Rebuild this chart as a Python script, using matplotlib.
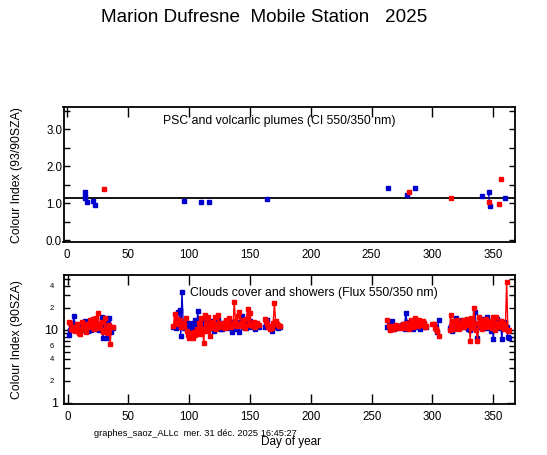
import numpy as np
import matplotlib
matplotlib.use("Agg")
import matplotlib.pyplot as plt
from matplotlib.ticker import FixedLocator, FixedFormatter

plt.rcParams['font.family'] = ['Liberation Sans', 'DejaVu Sans']

# ---------------- data ----------------
title = "Marion Dufresne  Mobile Station   2025"

# top panel: colour index (93/90 SZA)
ci_blue_days = [15, 15, 15, 16.7, 21.6, 23.2, 96.2, 110, 116.7, 164.2, 263.4, 279, 285.5,
                340.4, 346.2, 347, 359.3]
ci_blue_vals = [1.29, 1.19, 1.13, 1.02, 1.05, 0.94, 1.07, 1.04, 1.02, 1.10, 1.42, 1.23, 1.42,
                1.18, 1.29, 0.91, 1.15]
ci_red_days = [30.6, 280.6, 315, 346.2, 354.3, 356]
ci_red_vals = [1.37, 1.31, 1.13, 1.02, 0.99, 1.64]
ci_reference = 1.13

# bottom panel: flux ratio 550/350 at 90 SZA; segments given by start day
seg_starts_blue = [1, 87, 162, 263, 303, 314]
seg_starts_red = [1, 87, 162, 263, 300, 314]

flux_blue = [
    [8.5, 9.8, 11.5, 10.4, 15.5, 12.0, 10.8, 11.6, 10.2, 9.6, 11.8, 10.5, 9.9, 13.2, 12.6, 10.8,
     9.5, 11.2, 10.0, 12.8, 14.2, 11.5, 13.5, 10.4, 12.2, 9.8, 10.6, 14.8, 7.8, 9.6, 11.4, 7.8,
     12.5, 14.3, 10.2, 9.4, 10.5],
    [11.0, 11.5, 10.6, 12.0, 17.5, 18.8, 8.3, 33.0, 12.5, 10.5,
     11.2, 10.4, 12.6, 9.8, 11.8, 10.2, 12.4, 11.0, 13.5, 9.6,
     18.0, 10.8, 12.2, 9.4, 11.6, 14.0, 10.2, 12.8, 9.9, 11.4,
     10.6, 13.2, 11.8, 9.5, 12.4, 10.8, 11.2, 13.6, 10.4, 11.8,
     10.2, 12.6, 11.4, 10.8, 12.0, 13.4, 10.6, 11.2, 9.2, 12.8,
     11.0, 10.4, 13.0, 11.6, 9.2, 12.2, 15.6, 10.8, 12.4, 11.0,
     10.6, 12.0, 11.4, 13.2, 10.8, 11.6, 12.2, 10.4, 11.8, 11.2, 10.9],
    [11.0, 12.2, 13.6, 11.4, 10.6, 10.2, 9.6, 10.8, 11.8, 12.4, 11.2, 10.6, 11.4, 11.0],
    [11.0, 12.4, 10.2, 11.6, 13.2, 10.4, 11.0, 10.8, 11.4, 10.6, 11.2, 10.8, 11.6, 12.0, 10.4,
     17.0, 13.0, 11.8, 10.6, 12.4, 11.2, 10.4, 12.6, 11.8, 10.8, 13.4, 11.6, 10.2, 12.2, 11.0,
     12.6, 11.4, 10.8],
    [11.0, 9.4, 13.7],
    [10.6, 11.2, 9.5, 12.4, 11.0, 14.4, 13.2, 10.6, 12.8, 11.4,
     13.6, 10.8, 12.2, 13.0, 11.6, 10.2, 12.4, 9.8, 13.8, 11.0,
     12.6, 17.8, 10.4, 7.6, 12.0, 13.4, 10.8, 11.6, 14.2, 12.0,
     10.6, 14.9, 12.8, 11.4, 9.6, 13.2, 7.4, 12.6, 11.0, 14.0,
     12.2, 10.6, 13.4, 7.4, 11.8, 13.0, 12.4, 10.8, 8.0, 7.6],
]
flux_red = [
    [13.0, 12.4, 10.3, 9.9, 11.0, 9.6, 10.8, 12.0, 9.1, 8.7, 10.4, 12.8, 11.2, 10.5, 9.4, 12.0,
     10.8, 13.6, 12.6, 11.0, 13.9, 10.3, 14.5, 12.2, 17.2, 10.5, 11.4, 13.0, 9.3, 9.8, 14.6,
     10.2, 9.0, 11.5, 6.4, 10.8, 11.0],
    [11.2, 16.5, 13.0, 14.2, 12.0, 13.6, 11.0, 12.6, 10.8, 11.8,
     14.5, 9.6, 8.4, 7.8, 9.0, 8.2, 7.6, 9.4, 8.6, 10.2,
     9.0, 12.6, 8.8, 14.6, 10.4, 6.5, 15.8, 9.6, 15.2, 11.0,
     8.2, 12.8, 10.6, 11.4, 14.8, 10.2, 12.0, 16.2, 11.6, 10.8,
     12.4, 11.2, 10.6, 13.8, 11.0, 12.6, 14.4, 10.8, 12.2, 11.6,
     24.0, 13.2, 11.4, 15.6, 17.4, 12.0, 11.2, 13.6, 11.8, 10.6,
     14.2, 19.5, 11.6, 17.0, 12.2, 11.4, 12.8, 11.0, 11.8, 12.4, 11.6],
    [14.0, 13.2, 12.0, 11.0, 10.4, 11.2, 10.6, 12.6, 23.0, 13.4, 12.2, 11.8, 11.4, 11.2],
    [13.8, 11.2, 10.0, 10.8, 11.4, 10.4, 11.0, 11.6, 10.8, 11.2, 10.6, 11.4, 11.0, 12.0, 10.6,
     11.2, 12.6, 11.0, 10.4, 13.6, 12.2, 10.8, 11.6, 14.4, 12.0, 11.2, 13.8, 12.4, 11.6, 13.2,
     12.6, 11.0, 11.4],
    [12.1, 11.9, 10.7, 10.4, 9.6, 8.3],
    [10.0, 16.0, 11.4, 13.2, 10.2, 12.8, 13.7, 11.0, 10.4, 12.6,
     11.2, 13.6, 10.8, 12.4, 14.2, 11.6, 13.4, 7.1, 14.7, 10.6,
     19.8, 12.4, 9.8, 7.1, 15.0, 11.2, 13.6, 10.4, 12.8, 11.6,
     14.0, 10.8, 12.6, 11.4, 13.2, 10.6, 15.2, 9.8, 15.0, 11.6,
     12.4, 10.8, 13.2, 11.0, 12.6, 10.4, 11.8, 46.0, 9.7, 9.8],
]

x_ticks = [0, 50, 100, 150, 200, 250, 300, 350]
top_yticks = [0.0, 1.0, 2.0, 3.0]
top_yticklabels = ["0.0", "1.0", "2.0", "3.0"]
log_major = [1, 10]
log_major_labels = ["1", "10"]
log_minor = [2, 3, 4, 5, 6, 7, 8, 9, 20, 30, 40, 50]
log_minor_labels = ["2", "", "4", "", "6", "", "", "", "2", "", "4", ""]

BLUE = "#0000cc"
RED = "#ff0000"


def join_segments(starts, segs):
    xs, ys = [], []
    for s, vals in zip(starts, segs):
        xs.extend(list(np.arange(s, s + len(vals))) + [np.nan])
        ys.extend(list(vals) + [np.nan])
    return np.array(xs, float), np.array(ys, float)


def break_gaps(days, vals, maxgap=1.0):
    xs, ys = [days[0]], [vals[0]]
    for i in range(1, len(days)):
        if days[i] - days[i - 1] > maxgap:
            xs.append(np.nan)
            ys.append(np.nan)
        xs.append(days[i])
        ys.append(vals[i])
    return np.array(xs, float), np.array(ys, float)


W, H = 547, 455
fig = plt.figure(figsize=(W / 100, H / 100), dpi=100)


def ax_rect(l, t, r, b):
    return [l / W, 1 - b / H, (r - l) / W, (b - t) / H]


ax1 = fig.add_axes(ax_rect(63.5, 107.3, 514.7, 242.0))
ax2 = fig.add_axes(ax_rect(64.0, 275.3, 514.7, 404.3))

for ax in (ax1, ax2):
    for sp in ax.spines.values():
        sp.set_linewidth(1.3)
    ax.set_xlim(-3, 367.6)
    ax.set_xticks(x_ticks)
    ax.set_xticklabels([str(v) for v in x_ticks])

# ---- top panel ----
ax1.set_ylim(-0.05, 3.59)
ax1.axhline(ci_reference, color="black", lw=1.3, zorder=1)
bx, by = break_gaps(ci_blue_days, ci_blue_vals)
ax1.plot(bx, by, color=BLUE, lw=1.0, marker="s", ms=2.8, mec=BLUE, mfc=BLUE, zorder=3)
ax1.plot(ci_red_days, ci_red_vals, ls="none", color=RED, marker="s", ms=2.8, zorder=4)
ax1.yaxis.set_major_locator(FixedLocator(top_yticks))
ax1.yaxis.set_major_formatter(FixedFormatter(top_yticklabels))
ax1.yaxis.set_minor_locator(FixedLocator([0.5, 1.5, 2.5, 3.5]))
ax1.tick_params(axis="y", which="both", direction="in", length=4, width=1.0,
                left=True, right=True, labelsize=8.3, pad=1)
ax1.tick_params(axis="x", direction="in", length=7, width=1.0, top=True, bottom=False,
                labelbottom=True, labelsize=8.3, pad=5)
ax1.text(0.478, 0.895, "PSC and volcanic plumes (CI 550/350 nm)", transform=ax1.transAxes,
         ha="center", va="center", fontsize=8.8)
ax1.set_ylabel("Colour Index (93/90SZA)", fontsize=8.8)

# ---- bottom panel ----
ax2.set_yscale("log")
ax2.set_ylim(0.95, 56)
rx_b, ry_b = join_segments(seg_starts_blue, flux_blue)
rx_r, ry_r = join_segments(seg_starts_red, flux_red)
ax2.plot(rx_b, ry_b, color=BLUE, lw=1.0, marker="s", ms=2.6, zorder=3)
ax2.plot(rx_r, ry_r, color=RED, lw=1.0, marker="s", ms=2.6, zorder=4)
ax2.yaxis.set_major_locator(FixedLocator(log_major))
ax2.yaxis.set_major_formatter(FixedFormatter(log_major_labels))
ax2.yaxis.set_minor_locator(FixedLocator(log_minor))
ax2.yaxis.set_minor_formatter(FixedFormatter(log_minor_labels))
ax2.tick_params(axis="y", which="major", direction="in", length=6, width=1.0,
                left=True, right=True, labelsize=9, pad=4)
ax2.tick_params(axis="y", which="minor", direction="in", length=4, width=1.0,
                left=True, right=True, labelsize=5.5, pad=7)
ax2.tick_params(axis="x", direction="in", length=7, width=1.0, top=True, bottom=True,
                labelsize=8.3, pad=5)
ax2.text(0.554, 0.86, "Clouds cover and showers (Flux 550/350 nm)", transform=ax2.transAxes,
         ha="center", va="center", fontsize=8.8)
ax2.set_ylabel("Colour Index (90SZA)", fontsize=8.8)

# y labels at the same horizontal place as the reference
ax1.yaxis.set_label_coords(-0.09, 0.5)
ax2.yaxis.set_label_coords(-0.091, 0.5)

fig.text(264 / W, 1 - 17 / H, title, ha="center", va="center", fontsize=13.6)
fig.text(94 / W, 1 - 434 / H, "graphes_saoz_ALLc  mer. 31 déc. 2025 16:45:27",
         ha="left", va="center", fontsize=6.7)
fig.text(261 / W, 1 - 442.5 / H, "Day of year", ha="left", va="center", fontsize=8.5)

fig.savefig("out.png", dpi=100)
